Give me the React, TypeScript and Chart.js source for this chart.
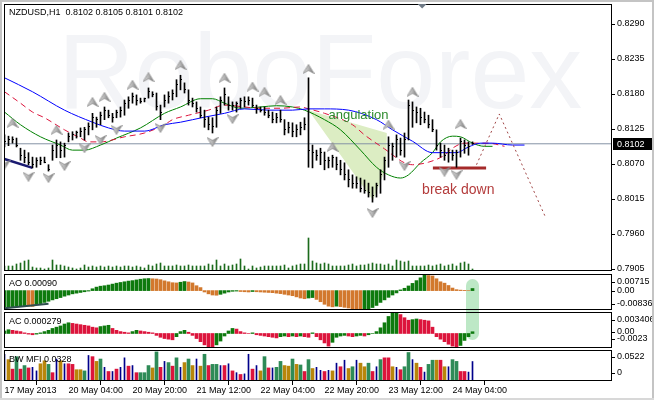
import React, { useEffect, useRef } from 'react';
import { Chart, registerables } from 'chart.js';

Chart.register(...registerables);

// ---------------- data ----------------
const symbolTitle = 'NZDUSD,H1  0.8102 0.8105 0.8101 0.8102';
const aoTitle = 'AO 0.00090';
const acTitle = 'AC 0.000279';
const mfiTitle = 'BW MFI 0.0328';
const watermarkText = 'RoboForex';

const priceTicks = [0.829, 0.8235, 0.818, 0.8125, 0.807, 0.8015, 0.796, 0.7905];
const lastPrice = 0.8102;

const dateTickIdx = [0, 16, 32, 48, 64, 80, 96, 112];
const dateLabels = ['17 May 2013', '20 May 04:00', '20 May 20:00', '21 May 12:00', '22 May 04:00', '22 May 20:00', '23 May 12:00', '24 May 04:00'];

const barHigh = [
  0.8116, 0.8114, 0.8113, 0.8111, 0.8095, 0.8092, 0.8088, 0.8081, 0.8080, 0.8081,
  0.8081, 0.8069, 0.8100, 0.8108, 0.8105, 0.8103, 0.8119, 0.8121, 0.8122, 0.8127,
  0.8128, 0.8135, 0.8150, 0.8144, 0.8152, 0.8160, 0.8155, 0.8150, 0.8155, 0.8160,
  0.8171, 0.8176, 0.8182, 0.8179, 0.8174, 0.8174, 0.8190, 0.8184, 0.8182, 0.8163,
  0.8179, 0.8184, 0.8187, 0.8203, 0.8210, 0.8198, 0.8187, 0.8174, 0.8168, 0.8160,
  0.8155, 0.8144, 0.8143, 0.8160, 0.8176, 0.8190, 0.8176, 0.8168, 0.8168, 0.8174,
  0.8176, 0.8176, 0.8174, 0.8163, 0.8160, 0.8160, 0.8155, 0.8152, 0.8150, 0.8155,
  0.8140, 0.8136, 0.8135, 0.8132, 0.8136, 0.8143, 0.8206, 0.8100, 0.8092, 0.8095,
  0.8089, 0.8081, 0.8084, 0.8081, 0.8076, 0.8072, 0.8061, 0.8053, 0.8050, 0.8048,
  0.8045, 0.8040, 0.8034, 0.8040, 0.8061, 0.8081, 0.8113, 0.8103, 0.8116, 0.8111,
  0.8119, 0.8171, 0.8168, 0.8160, 0.8158, 0.8152, 0.8147, 0.8140, 0.8124, 0.8103,
  0.8100, 0.8095, 0.8092, 0.8092, 0.8111, 0.8108, 0.8105, 0.8105,
];
const barLow = [
  0.8097, 0.8099, 0.8103, 0.8097, 0.8076, 0.8072, 0.8069, 0.8064, 0.8065, 0.8069,
  0.8072, 0.8059, 0.8076, 0.8080, 0.8080, 0.8081, 0.8105, 0.8108, 0.8111, 0.8113,
  0.8108, 0.8116, 0.8124, 0.8128, 0.8132, 0.8140, 0.8143, 0.8136, 0.8143, 0.8144,
  0.8147, 0.8158, 0.8166, 0.8163, 0.8166, 0.8168, 0.8174, 0.8176, 0.8155, 0.8140,
  0.8160, 0.8166, 0.8171, 0.8176, 0.8187, 0.8182, 0.8163, 0.8160, 0.8152, 0.8143,
  0.8128, 0.8124, 0.8119, 0.8128, 0.8150, 0.8163, 0.8155, 0.8155, 0.8152, 0.8158,
  0.8160, 0.8163, 0.8160, 0.8150, 0.8152, 0.8147, 0.8143, 0.8135, 0.8135, 0.8136,
  0.8116, 0.8119, 0.8113, 0.8113, 0.8116, 0.8124, 0.8065, 0.8064, 0.8076, 0.8069,
  0.8061, 0.8064, 0.8065, 0.8061, 0.8053, 0.8045, 0.8034, 0.8032, 0.8032, 0.8026,
  0.8024, 0.8018, 0.8010, 0.8018, 0.8024, 0.8045, 0.8065, 0.8076, 0.8081, 0.8084,
  0.8081, 0.8108, 0.8128, 0.8135, 0.8132, 0.8135, 0.8127, 0.8121, 0.8092, 0.8081,
  0.8076, 0.8073, 0.8076, 0.8065, 0.8081, 0.8087, 0.8084, 0.8101,
];
const barClose = [
  0.8105, 0.8108, 0.8108, 0.8100, 0.8084, 0.8080, 0.8073, 0.8069, 0.8076, 0.8076,
  0.8073, 0.8061, 0.8092, 0.8100, 0.8092, 0.8100, 0.8113, 0.8117, 0.8119, 0.8122,
  0.8124, 0.8130, 0.8143, 0.8140, 0.8147, 0.8155, 0.8147, 0.8144, 0.8152, 0.8155,
  0.8166, 0.8171, 0.8176, 0.8171, 0.8169, 0.8173, 0.8184, 0.8179, 0.8160, 0.8152,
  0.8171, 0.8177, 0.8182, 0.8195, 0.8203, 0.8187, 0.8171, 0.8165, 0.8158, 0.8147,
  0.8140, 0.8132, 0.8130, 0.8155, 0.8171, 0.8179, 0.8163, 0.8162, 0.8165, 0.8171,
  0.8168, 0.8171, 0.8163, 0.8158, 0.8155, 0.8152, 0.8147, 0.8140, 0.8143, 0.8140,
  0.8124, 0.8127, 0.8121, 0.8124, 0.8128, 0.8132, 0.8092, 0.8089, 0.8084, 0.8089,
  0.8076, 0.8076, 0.8080, 0.8069, 0.8061, 0.8053, 0.8045, 0.8040, 0.8040, 0.8032,
  0.8029, 0.8026, 0.8021, 0.8037, 0.8053, 0.8076, 0.8100, 0.8097, 0.8108, 0.8092,
  0.8108, 0.8163, 0.8155, 0.8152, 0.8143, 0.8140, 0.8132, 0.8124, 0.8100, 0.8092,
  0.8084, 0.8089, 0.8084, 0.8089, 0.8105, 0.8100, 0.8097, 0.8102,
];
const tickVolume = [
  500, 500, 500, 700, 800, 1000, 1100, 400, 300, 300,
  200, 300, 1100, 600, 600, 500, 400, 300, 200, 300,
  600, 400, 500, 400, 500, 400, 500, 400, 500, 400,
  500, 500, 400, 500, 400, 300, 600, 500, 700, 800,
  500, 500, 500, 600, 500, 500, 600, 500, 500, 500,
  500, 700, 600, 1100, 500, 700, 500, 600, 700, 1200,
  500, 200, 500, 300, 400, 500, 500, 500, 500, 500,
  600, 300, 500, 600, 700, 700, 3300, 1000, 800, 700,
  800, 700, 500, 500, 500, 500, 600, 700, 500, 600,
  600, 700, 800, 700, 700, 600, 700, 500, 1100, 1000,
  900, 1000, 500, 500, 500, 500, 600, 500, 600, 700,
  500, 600, 700, 500, 800, 900, 700, 200,
];

// Alligator lines (bar index, price)
const jawIdx = [0, 7, 15, 22, 26, 30, 35, 40, 44, 50, 55, 60, 66, 72, 76, 80, 86, 93, 97, 102, 107, 113, 116, 119, 122, 127, 130];
const jawPrice = [0.8206, 0.8184, 0.8155, 0.8136, 0.8127, 0.8122, 0.8122, 0.8132, 0.8136, 0.8144, 0.8150, 0.8157, 0.8155, 0.8155, 0.8157, 0.8157, 0.8155, 0.8140, 0.8124, 0.8106, 0.8088, 0.8088, 0.8097, 0.8103, 0.8103, 0.8100, 0.8100];
const teethIdx = [0, 4, 7, 10, 15, 19, 21, 24, 30, 35, 40, 42, 46, 51, 55, 60, 64, 69, 74, 76, 80, 87, 90, 95, 100, 102, 106, 110, 112, 115, 118, 121, 125];
const teethPrice = [0.8184, 0.8166, 0.8152, 0.8143, 0.8124, 0.8111, 0.8105, 0.8105, 0.8113, 0.8119, 0.8132, 0.8140, 0.8147, 0.8155, 0.8163, 0.8160, 0.8158, 0.8158, 0.8160, 0.8157, 0.8150, 0.8132, 0.8116, 0.8094, 0.8072, 0.8069, 0.8073, 0.8084, 0.8095, 0.8103, 0.8103, 0.8103, 0.8098];
const lipsIdx = [0, 4, 9, 14, 17, 20, 24, 28, 34, 40, 44, 49, 52, 55, 59, 64, 68, 72, 75, 80, 84, 89, 93, 96, 99, 101, 104, 107, 109, 112, 114, 117, 120, 122];
const lipsPrice = [0.8152, 0.8132, 0.8113, 0.8100, 0.8092, 0.8092, 0.8100, 0.8111, 0.8127, 0.8150, 0.8160, 0.8173, 0.8173, 0.8166, 0.8158, 0.8160, 0.8162, 0.8160, 0.8155, 0.8140, 0.8124, 0.8092, 0.8065, 0.8053, 0.8048, 0.8053, 0.8072, 0.8088, 0.8105, 0.8114, 0.8113, 0.8103, 0.8098, 0.8098];

// Fractals
const fracUpIdx = [2, 13, 22, 25, 32, 36, 44, 55, 62, 65, 69, 76, 82, 96, 102, 114];
const fracUpPrice = [0.8135, 0.8124, 0.8168, 0.8176, 0.8195, 0.8207, 0.8226, 0.8206, 0.8192, 0.8184, 0.8171, 0.8220, 0.8097, 0.8132, 0.8184, 0.8133];
const fracDownIdx = [0, 6, 11, 15, 20, 24, 28, 39, 52, 57, 92, 100, 110, 113];
const fracDownPrice = [0.8069, 0.8050, 0.8048, 0.8067, 0.8095, 0.8108, 0.8124, 0.8127, 0.8105, 0.8141, 0.7993, 0.8067, 0.8058, 0.8053];

// Analyst drawings
const angTopIdx = [76, 95.6];
const angTopPrice = [0.8155, 0.8119];
const angBottomIdx = [76, 92.1, 95.4, 95.6];
const angBottomPrice = [0.8155, 0.8013, 0.8064, 0.8119];
const trendIdx = [0, 7];
const trendPrice = [0.8078, 0.8064];
const breakIdx = [107.1, 120.4];
const breakPrice = [0.8064, 0.8064];
const projIdx = [118, 123.7, 135.2];
const projPrice = [0.8069, 0.8149, 0.7987];
const noteTexts = ['angulation', 'break down'];
const noteIdx = [81, 104.4];
const notePrice = [0.8146, 0.8029];
const shiftIdx = 104.4;

// Oscillators
const aoValues = [
  -0.0071, -0.0070, -0.0069, -0.0068, -0.0067, -0.0066, -0.0067, -0.0068, -0.0060, -0.0056,
  -0.0051, -0.0046, -0.0040, -0.0035, -0.0030, -0.0024, -0.0019, -0.0014, -0.0011, -0.0008,
  -0.0005, -0.0002, 0.0008, 0.0015, 0.0019, 0.0021, 0.0024, 0.0028, 0.0032, 0.0035,
  0.0038, 0.0041, 0.0043, 0.0046, 0.0049, 0.0051, 0.0052, 0.0051, 0.0050, 0.0047,
  0.0042, 0.0038, 0.0034, 0.0033, 0.0036, 0.0039, 0.0037, 0.0033, 0.0021, 0.0013,
  -0.0006, -0.0014, -0.0019, -0.0020, -0.0016, -0.0011, -0.0006, -0.0003, -0.0002, -0.0004,
  -0.0005, -0.0006, -0.0004, -0.0005, -0.0006, -0.0007, -0.0008, -0.0009, -0.0011, -0.0013,
  -0.0016, -0.0019, -0.0022, -0.0027, -0.0032, -0.0035, -0.0032, -0.0030, -0.0038, -0.0048,
  -0.0059, -0.0067, -0.0070, -0.0067, -0.0069, -0.0072, -0.0075, -0.0078, -0.0080, -0.0083,
  -0.0082, -0.0079, -0.0073, -0.0064, -0.0051, -0.0040, -0.0029, -0.0019, -0.0010, 0.0003,
  0.0010, 0.0020, 0.0031, 0.0043, 0.0055, 0.0067, 0.0065, 0.0063, 0.0051, 0.0038,
  0.0032, 0.0022, 0.0011, 0.0004, 0.0002, 0.0001, 0.0000, 0.0009,
];
const aoTrendIdx = [0, 11];
const aoTrendValue = [-0.0076, -0.0057];
const acValues = [
  0.0004, 0.0006, 0.0005, 0.0004, 0.0003, 0.0001, -0.0001, -0.0002, -0.0001, 0.0001,
  0.0003, 0.0005, 0.0008, 0.0010, 0.0012, 0.0015, 0.0017, 0.0016, 0.0015, 0.0014,
  0.0013, 0.0012, 0.0010, 0.0009, 0.0011, 0.0012, 0.0013, 0.0008, 0.0005, 0.0003,
  0.0002, 0.0001, 0.0003, 0.0005, 0.0004, 0.0003, 0.0002, 0.0001, -0.0003, -0.0006,
  -0.0008, -0.0009, -0.0010, -0.0005, 0.0003, 0.0005, 0.0002, -0.0003, -0.0008, -0.0013,
  -0.0018, -0.0021, -0.0022, -0.0018, -0.0012, -0.0004, 0.0004, 0.0008, 0.0007, 0.0003,
  0.0001, 0.0000, 0.0001, -0.0002, -0.0003, -0.0004, -0.0005, -0.0006, -0.0007, -0.0005,
  -0.0004, -0.0005, -0.0004, -0.0005, -0.0004, -0.0005, -0.0006, 0.0001, -0.0005, -0.0010,
  -0.0015, -0.0020, -0.0014, -0.0006, -0.0004, -0.0003, -0.0004, -0.0005, -0.0004, -0.0003,
  -0.0004, -0.0002, 0.0000, 0.0003, 0.0009, 0.0017, 0.0027, 0.0032, 0.0034, 0.0030,
  0.0025, 0.0021, 0.0022, 0.0023, 0.0022, 0.0021, 0.0020, 0.0010, -0.0005, -0.0009,
  -0.0013, -0.0017, -0.0020, -0.0021, -0.0019, -0.0011, -0.0005, 0.000279,
];
const mfiValues = [
  0.045, 0.036, 0.020, 0.041, 0.020, 0.026, 0.022, 0.023, 0.017, 0.029,
  0.034, 0.028, 0.014, 0.037, 0.034, 0.029, 0.029, 0.028, 0.019, 0.019,
  0.017, 0.043, 0.041, 0.033, 0.037, 0.023, 0.016, 0.016, 0.020, 0.023,
  0.039, 0.025, 0.026, 0.014, 0.014, 0.014, 0.026, 0.022, 0.049, 0.023,
  0.033, 0.031, 0.025, 0.039, 0.023, 0.031, 0.037, 0.026, 0.037, 0.025,
  0.045, 0.026, 0.028, 0.028, 0.026, 0.026, 0.029, 0.017, 0.014, 0.011,
  0.012, 0.045, 0.020, 0.026, 0.017, 0.041, 0.022, 0.022, 0.023, 0.033,
  0.026, 0.025, 0.037, 0.028, 0.027, 0.016, 0.036, 0.021, 0.023, 0.018,
  0.016, 0.018, 0.017, 0.030, 0.024, 0.035, 0.021, 0.024, 0.035, 0.030,
  0.024, 0.030, 0.016, 0.024, 0.036, 0.039, 0.039, 0.024, 0.023, 0.019,
  0.024, 0.048, 0.036, 0.030, 0.023, 0.015, 0.028, 0.035, 0.035, 0.035,
  0.024, 0.024, 0.036, 0.033, 0.016, 0.016, 0.015, 0.0328,
];
// G = green, F = fade (brown), B = fake (blue), S = squat (pink)
const mfiZone = [
  'B', 'F', 'S', 'G', 'S', 'G', 'S', 'B', 'B', 'F',
  'F', 'G', 'S', 'B', 'F', 'B', 'S', 'S', 'F', 'F',
  'G', 'B', 'S', 'F', 'G', 'B', 'S', 'B', 'S', 'B',
  'B', 'S', 'B', 'S', 'G', 'G', 'G', 'F', 'G', 'S',
  'B', 'G', 'S', 'G', 'B', 'F', 'G', 'F', 'B', 'F',
  'G', 'S', 'G', 'G', 'B', 'S', 'B', 'S', 'B', 'S',
  'B', 'B', 'S', 'B', 'F', 'G', 'S', 'B', 'G', 'G',
  'F', 'F', 'G', 'F', 'G', 'S', 'G', 'F', 'B', 'B',
  'S', 'B', 'F', 'B', 'S', 'B', 'F', 'G', 'B', 'F',
  'F', 'G', 'S', 'B', 'G', 'S', 'S', 'F', 'B', 'S',
  'G', 'G', 'B', 'F', 'S', 'B', 'G', 'G', 'F', 'S',
  'F', 'B', 'G', 'G', 'S', 'S', 'B', 'B',
];

const aoAxis = [
  { text: '0.00715', value: 0.00715, dy: 8 },
  { text: '0.00', value: 0, dy: 0 },
  { text: '-0.00836', value: -0.00836, dy: -6 },
];
const acAxis = [
  { text: '0.003406', value: 0.003406, dy: 8 },
  { text: '0.00', value: 0, dy: -1 },
  { text: '-0.0023', value: -0.0023, dy: -9 },
];
const mfiAxis = [
  { text: '0.0522', value: 0.0522, dy: 7 },
  { text: '0', value: 0, dy: -8 },
];

// ---------------- styling ----------------
const X_MIN = -0.125;
const X_MAX = 151.875;
const PRICE_MIN = 0.79015;
const PRICE_MAX = 0.83223;
const FONT = { family: 'Liberation Sans', size: 9 };
const CFONT = '9px "Liberation Sans"';
const GREEN = '#0e7a0e';
const AO_DOWN = '#d2782d';
const AC_DOWN = '#dc143c';
const MFI_COLORS: Record<string, string> = { G: '#2e8b57', F: '#b8860b', B: '#00008b', S: '#dc143c' };

const pts = (xs: number[], ys: number[]) => xs.map((x, i) => ({ x, y: ys[i] }));
const fixW = (s: any) => { s.width = 42; };
const xHidden = () => ({ type: 'linear', min: X_MIN, max: X_MAX, display: false, offset: false });
const yPanel = (min: number, max: number) => ({
  type: 'linear', position: 'right', min, max, afterFit: fixW,
  ticks: { display: false }, grid: { display: false }, border: { display: false },
});

function makeArrow(up: boolean) {
  const c = document.createElement('canvas');
  c.width = 12; c.height = 10;
  const g = c.getContext('2d')!;
  if (!up) { g.translate(0, 10); g.scale(1, -1); }
  g.beginPath();
  g.moveTo(6, 0.5); g.lineTo(11.5, 9.5); g.lineTo(6, 6.5); g.lineTo(0.5, 9.5); g.closePath();
  const grad = g.createLinearGradient(0, 0, 12, 0);
  grad.addColorStop(0, '#e4e4e4'); grad.addColorStop(0.5, '#b4b4b4'); grad.addColorStop(1, '#6c6c6c');
  g.fillStyle = grad; g.fill();
  g.strokeStyle = '#8c8c8c'; g.lineWidth = 0.8; g.stroke();
  return c;
}
function makeCloseTick() {
  const c = document.createElement('canvas');
  c.width = 3; c.height = 1;
  const g = c.getContext('2d')!;
  g.fillStyle = '#000'; g.fillRect(2, 0, 1, 1);
  return c;
}

function drawAxisLabel(ctx: any, a: any, text: string, y: number) {
  const yy = Math.round(y);
  ctx.fillText(text, a.right + 5, yy);
  ctx.beginPath(); ctx.moveTo(a.right, yy + 0.5); ctx.lineTo(a.right + 3, yy + 0.5); ctx.stroke();
}

function panelPlugin(title: string, labels: { text: string; value: number; dy: number }[]) {
  return {
    id: 'panelDecor',
    afterDraw(chart: any) {
      const { ctx, chartArea: a } = chart;
      const ys = chart.scales.y;
      ctx.save();
      ctx.strokeStyle = '#000'; ctx.lineWidth = 1;
      ctx.strokeRect(a.left + 0.5, a.top + 0.5, a.right - a.left - 1, a.bottom - a.top - 1);
      ctx.font = CFONT; ctx.fillStyle = '#000'; ctx.textAlign = 'left'; ctx.textBaseline = 'middle';
      ctx.fillText(title, a.left + 5, a.top + 10);
      for (const l of labels) drawAxisLabel(ctx, a, l.text, ys.getPixelForValue(l.value) + l.dy);
      ctx.restore();
    },
  };
}

const mainPlugin = {
  id: 'mainDecor',
  beforeDatasetsDraw(chart: any) {
    const { ctx, chartArea: a } = chart;
    ctx.save();
    ctx.beginPath(); ctx.rect(a.left, a.top, a.right - a.left, a.bottom - a.top); ctx.clip();
    ctx.fillStyle = '#f3f4f7';
    ctx.font = '106px "Liberation Sans"';
    ctx.textBaseline = 'alphabetic'; ctx.textAlign = 'left';
    ctx.fillText(watermarkText, a.left + 54, a.top + 104);
    ctx.restore();
  },
  afterDraw(chart: any) {
    const { ctx, chartArea: a } = chart;
    const xs = chart.scales.x, ys = chart.scales.y;
    ctx.save();
    ctx.strokeStyle = '#000'; ctx.lineWidth = 1;
    ctx.strokeRect(a.left + 0.5, a.top + 0.5, a.right - a.left - 1, a.bottom - a.top - 1);
    // price scale
    ctx.font = CFONT; ctx.fillStyle = '#000'; ctx.textAlign = 'left'; ctx.textBaseline = 'middle';
    for (const v of priceTicks) drawAxisLabel(ctx, a, v.toFixed(4), ys.getPixelForValue(v));
    // shift marker
    const sx = xs.getPixelForValue(shiftIdx);
    ctx.fillStyle = '#6f7a86';
    ctx.beginPath(); ctx.moveTo(sx - 4.5, a.top); ctx.lineTo(sx + 4.5, a.top); ctx.lineTo(sx, a.top + 4.5); ctx.closePath(); ctx.fill();
    // title
    ctx.fillStyle = '#000';
    ctx.fillText(symbolTitle, a.left + 5, a.top + 9);
    // notes
    ctx.font = '13px "Liberation Sans"'; ctx.fillStyle = '#2e8b2e';
    ctx.fillText(noteTexts[0], xs.getPixelForValue(noteIdx[0]), ys.getPixelForValue(notePrice[0]));
    ctx.font = '14px "Liberation Sans"'; ctx.fillStyle = '#b43c3c';
    ctx.fillText(noteTexts[1], xs.getPixelForValue(noteIdx[1]), ys.getPixelForValue(notePrice[1]));
    // last price box
    const py = Math.round(ys.getPixelForValue(lastPrice));
    ctx.fillStyle = '#000'; ctx.fillRect(a.right + 1, py - 6, 41, 12);
    ctx.fillStyle = '#fff'; ctx.font = CFONT; ctx.textBaseline = 'middle';
    ctx.fillText(lastPrice.toFixed(4), a.right + 5, py + 0.5);
    ctx.restore();
  },
};

const baseOpts = {
  responsive: false,
  animation: false as const,
  events: [] as any[],
  plugins: { legend: { display: false }, tooltip: { enabled: false } },
};

export default function App() {
  const mainRef = useRef<HTMLCanvasElement>(null);
  const aoRef = useRef<HTMLCanvasElement>(null);
  const acRef = useRef<HTMLCanvasElement>(null);
  const mfiRef = useRef<HTMLCanvasElement>(null);

  useEffect(() => {
    const charts: Chart[] = [];
    const idx = barHigh.map((_, i) => i);
    const upArrow = makeArrow(true);
    const downArrow = makeArrow(false);
    const closeTick = makeCloseTick();

    charts.push(new Chart(mainRef.current!, {
      type: 'bar',
      data: {
        datasets: [
          { type: 'line', data: pts(angTopIdx, angTopPrice), fill: '+1', backgroundColor: '#dcedc3', borderColor: 'rgba(0,0,0,0)', borderWidth: 0, pointRadius: 0, order: 20 } as any,
          { type: 'line', data: pts(angBottomIdx, angBottomPrice), fill: false, borderColor: 'rgba(0,0,0,0)', borderWidth: 0, pointRadius: 0, order: 20 } as any,
          { type: 'bar', yAxisID: 'vol', data: idx.map(i => ({ x: i, y: tickVolume[i] })), backgroundColor: '#1c6b1c', barThickness: 1, grouped: false, borderWidth: 0, order: 15 } as any,
          { type: 'line', data: [{ x: X_MIN, y: lastPrice }, { x: X_MAX, y: lastPrice }], borderColor: '#8593a5', borderWidth: 1, pointRadius: 0, order: 14 } as any,
          { type: 'line', data: pts(jawIdx, jawPrice), borderColor: '#0000ff', borderWidth: 1, pointRadius: 0, cubicInterpolationMode: 'monotone', order: 10 } as any,
          { type: 'line', data: pts(teethIdx, teethPrice), borderColor: '#dc143c', borderWidth: 1, borderDash: [6, 4], pointRadius: 0, cubicInterpolationMode: 'monotone', order: 10 } as any,
          { type: 'line', data: pts(lipsIdx, lipsPrice), borderColor: '#008000', borderWidth: 1, pointRadius: 0, cubicInterpolationMode: 'monotone', order: 10 } as any,
          { type: 'line', data: pts(trendIdx, trendPrice), borderColor: '#1a1a70', borderWidth: 2.5, pointRadius: 0, order: 8 } as any,
          { type: 'line', data: pts(breakIdx, breakPrice), borderColor: '#a52a2a', borderWidth: 3, pointRadius: 0, order: 8 } as any,
          { type: 'line', data: pts(projIdx, projPrice), borderColor: '#a04646', borderWidth: 1, borderDash: [2, 3], pointRadius: 0, order: 8 } as any,
          { type: 'bar', data: idx.map(i => ({ x: i, y: [barLow[i], barHigh[i]] })), backgroundColor: '#000', barThickness: 1, grouped: false, borderWidth: 0, order: 5 } as any,
          { type: 'scatter', data: idx.map(i => ({ x: i, y: barClose[i] })), pointStyle: closeTick, pointRadius: 1, order: 4 } as any,
          { type: 'scatter', data: pts(fracUpIdx, fracUpPrice), pointStyle: upArrow, pointRadius: 6, order: 1 } as any,
          { type: 'scatter', data: pts(fracDownIdx, fracDownPrice), pointStyle: downArrow, pointRadius: 6, order: 1 } as any,
        ],
      },
      options: {
        ...baseOpts,
        layout: { autoPadding: false, padding: { left: 4, top: 4, right: 0, bottom: 1 } },
        scales: {
          x: xHidden() as any,
          y: yPanel(PRICE_MIN, PRICE_MAX) as any,
          vol: { type: 'linear', display: false, min: 0, max: 26700, position: 'left' } as any,
        },
      } as any,
      plugins: [mainPlugin],
    }));

    const aoColors = aoValues.map((v, i) => (i === 0 || v > aoValues[i - 1] ? GREEN : AO_DOWN));
    charts.push(new Chart(aoRef.current!, {
      type: 'bar',
      data: {
        datasets: [
          { type: 'line', data: pts(aoTrendIdx, aoTrendValue), borderColor: '#2f4f4f', borderWidth: 2, pointRadius: 0, order: 1 } as any,
          { type: 'bar', data: idx.map(i => ({ x: i, y: aoValues[i] })), backgroundColor: aoColors, barThickness: 3, borderWidth: 0, order: 2 } as any,
        ],
      },
      options: {
        ...baseOpts,
        layout: { autoPadding: false, padding: { left: 4, top: 2, right: 0, bottom: 2 } },
        scales: { x: xHidden() as any, y: yPanel(-0.00836, 0.00715) as any },
      } as any,
      plugins: [panelPlugin(aoTitle, aoAxis)],
    }));

    const acColors = acValues.map((v, i) => (i === 0 || v > acValues[i - 1] ? GREEN : AC_DOWN));
    charts.push(new Chart(acRef.current!, {
      type: 'bar',
      data: {
        datasets: [
          { type: 'bar', data: idx.map(i => ({ x: i, y: acValues[i] })), backgroundColor: acColors, barThickness: 3, borderWidth: 0 } as any,
        ],
      },
      options: {
        ...baseOpts,
        layout: { autoPadding: false, padding: { left: 4, top: 2, right: 0, bottom: 1 } },
        scales: { x: xHidden() as any, y: yPanel(-0.0023, 0.003406) as any },
      } as any,
      plugins: [panelPlugin(acTitle, acAxis)],
    }));

    const zoneSet = (z: string) => idx.filter(i => mfiZone[i] === z).map(i => ({ x: i, y: mfiValues[i] }));
    charts.push(new Chart(mfiRef.current!, {
      type: 'bar',
      data: {
        datasets: ['G', 'F', 'S', 'B'].map(z => ({
          type: 'bar', data: zoneSet(z), backgroundColor: MFI_COLORS[z], barThickness: z === 'B' ? 1 : 3, grouped: false, borderWidth: 0,
        })) as any,
      },
      options: {
        ...baseOpts,
        layout: { autoPadding: false, padding: { left: 4, top: 2, right: 0, bottom: 0 } },
        scales: {
          x: {
            type: 'linear', min: X_MIN, max: X_MAX, offset: false,
            afterBuildTicks: (s: any) => { s.ticks = dateTickIdx.map(v => ({ value: v })); },
            afterFit: (s: any) => { s.height = 19; },
            ticks: { callback: (_v: any, i: number) => dateLabels[i], autoSkip: false, maxRotation: 0, minRotation: 0, align: 'start', padding: 0, color: '#000', font: FONT },
            grid: { display: true, drawOnChartArea: false, drawTicks: true, tickLength: 4, color: '#000' },
            border: { display: false },
          } as any,
          y: yPanel(0, 0.0522) as any,
        },
      } as any,
      plugins: [panelPlugin(mfiTitle, mfiAxis)],
    }));

    return () => { charts.forEach(c => c.destroy()); };
  }, []);

  const abs = (top: number, h: number): React.CSSProperties => ({ position: 'absolute', left: 0, top, width: 654, height: h });
  return (
    <div style={{ position: 'absolute', left: 0, top: 0, width: 654, height: 400, background: '#fff', overflow: 'hidden' }}>
      <div style={{ position: 'absolute', left: 466, top: 279, width: 13, height: 61, borderRadius: 7, background: '#bde8c6' }} />
      <canvas ref={mainRef} width={654} height={272} style={abs(0, 272)} />
      <canvas ref={aoRef} width={654} height={40} style={abs(272, 40)} />
      <canvas ref={acRef} width={654} height={39} style={abs(310, 39)} />
      <canvas ref={mfiRef} width={654} height={52} style={abs(348, 52)} />
      <div style={{ position: 'absolute', left: 0, top: 0, width: 654, height: 2, background: '#c4c4c4' }} />
      <div style={{ position: 'absolute', left: 0, top: 0, width: 2, height: 400, background: '#c4c4c4' }} />
      <div style={{ position: 'absolute', left: 652, top: 0, width: 2, height: 400, background: '#c4c4c4' }} />
      <div style={{ position: 'absolute', left: 0, top: 398, width: 654, height: 2, background: '#d8d8d8' }} />
    </div>
  );
}
